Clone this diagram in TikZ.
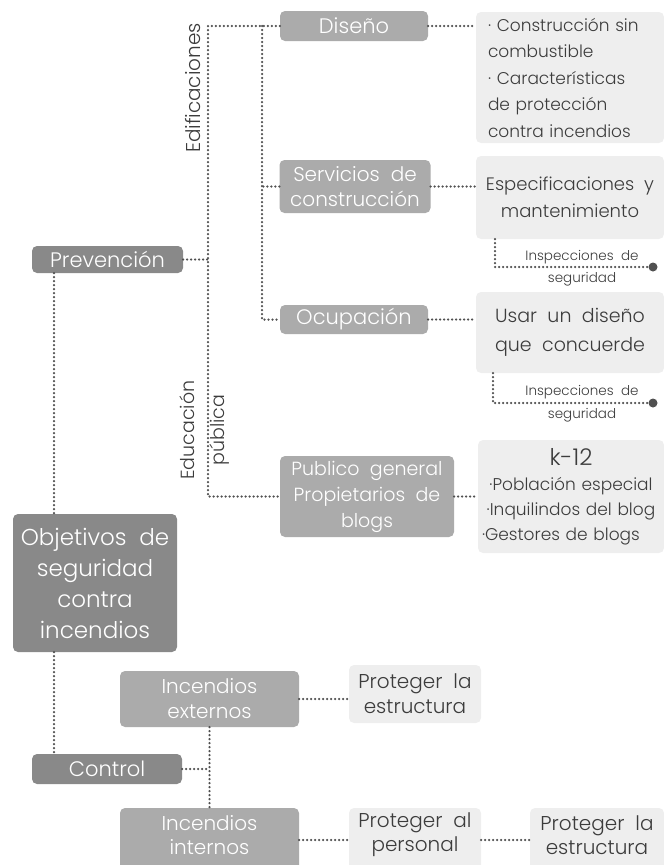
\documentclass[tikz,border=0pt]{standalone}
\usepackage{fontspec}
\setmainfont{Poppins Light}[WordSpace=2]
\usetikzlibrary{calc}
\definecolor{toneA}{HTML}{898989}
\definecolor{toneB}{HTML}{ABABAB}
\definecolor{toneC}{HTML}{EEEEEE}
\definecolor{ink}{HTML}{3C3C3C}
\definecolor{wire}{HTML}{505050}
\newcommand\fsz[2]{\fontsize{#1}{#2}\selectfont}

\begin{document}
\begin{tikzpicture}[x=1pt,y=-1pt,
  box/.style={rounded corners=5pt, inner sep=0pt, align=center, anchor=center},
  rootbox/.style={box, fill=toneA, text=white},
  midbox/.style={box, fill=toneB, text=white},
  leafbox/.style={box, fill=toneC, text=ink},
  link/.style={draw=wire, line width=2.5pt, line cap=round, dash pattern=on 0pt off 4pt},
  enddot/.style={circle, fill=wire, inner sep=0pt, minimum size=9pt},
  note/.style={text=ink, inner sep=0pt, font=\fsz{13.5}{15}},
  plain/.style={inner sep=0pt, align=center, anchor=center}
]
\clip (0,0) rectangle (664,865);

% trunk positions
\coordinate (spine) at (54,0);
\coordinate (trunkA) at (208,0);
\coordinate (trunkB) at (262,0);

% main column
\node[rootbox, minimum width=164pt, minimum height=138pt, font=\fsz{23}{31}]
  (obj) at (95,583) {Objetivos de\\seguridad\\contra\\incendios};
\node[rootbox, minimum width=151pt, minimum height=27pt, font=\fsz{21}{22}]
  (prev) at (107.5,259.5) {Prevención};
\node[rootbox, minimum width=150pt, minimum height=30pt, font=\fsz{21}{22}]
  (ctrl) at (107,769) {Control};

% prevention branch
\node[midbox, minimum width=148pt, minimum height=30pt, font=\fsz{21}{22}]
  (dis) at (354,26) {Diseño};
\node[midbox, minimum width=151pt, minimum height=53pt, font=\fsz{20}{25}]
  (serv) at (355,186.5) {Servicios de\\construcción};
\node[midbox, minimum width=148pt, minimum height=29pt, font=\fsz{21}{22}]
  (ocup) at (354,319.5) {Ocupación};
\node[midbox, minimum width=174pt, minimum height=81pt, font=\fsz{19}{26}]
  (pub) at (367,496.5) {Publico general\\Propietarios de\\blogs};

\node[leafbox, minimum width=188pt, minimum height=131pt, text width=164pt,
  font=\fsz{17}{26.5}, align=left, xshift=-2pt]
  (dsum) at (572,77.5) {· Construcción sin\\combustible\\· Características\\de protección\\contra incendios};
\node[leafbox, minimum width=188pt, minimum height=83pt, font=\fsz{18}{27}]
  (esp) at (570,197.5) {Especificaciones y\\mantenimiento};
\node[leafbox, minimum width=188pt, minimum height=81pt, font=\fsz{19}{29}]
  (usar) at (570,332.5) {Usar un diseño\\que concuerde};
\node[leafbox, minimum width=186pt, minimum height=113pt, text width=178pt,
  font=\fsz{17}{25}, align=left]
  (k12) at (571,496.5) {\centering{\fsz{23}{29}k-12}\par ·Población especial\\·Inquilindos del blog\\·Gestores de blogs};

% vertical group labels
\node[rotate=90, text=ink, font=\fsz{20}{24}, inner sep=0pt] (edif) at (193,88) {Edificaciones};
\node[rotate=90, text=ink, font=\fsz{19}{30}, align=center, inner sep=0pt] (educ) at (205,430) {Educación\\pública};

% inspection tails
\coordinate (insA) at (495,267);
\coordinate (insB) at (493,403);
\node[enddot] (dotA) at (653,267) {};
\node[enddot] (dotB) at (653,403) {};
\node[note] (insAt) at (582,257) {Inspecciones de};
\node[note] (insAb) at (582,279) {seguridad};
\node[note] (insBt) at (582,392) {Inspecciones de};
\node[note] (insBb) at (582,415) {seguridad};

% control branch
\node[midbox, minimum width=179pt, minimum height=56pt, font=\fsz{20}{25}]
  (ext) at (209.5,699) {Incendios\\externos};
\node[midbox, minimum width=179pt, minimum height=64pt]
  (int) at (209.5,840) {};
\node[leafbox, minimum width=132pt, minimum height=58pt, font=\fsz{20}{25}]
  (pe1) at (415,694) {Proteger la\\estructura};
\node[leafbox, minimum width=132pt, minimum height=64pt]
  (pp) at (415,840) {};
\node[leafbox, minimum width=134pt, minimum height=64pt]
  (pe2) at (597,840) {};
% bottom row labels, kept inside the lower edge
\node[plain, text=white, font=\fsz{20}{24}] (intT) at (209.5,835) {Incendios\\internos};
\node[plain, text=ink, font=\fsz{20}{24}] (ppT) at (415,835) {Proteger al\\personal};
\node[plain, text=ink, font=\fsz{20}{24}] (pe2T) at (597,835) {Proteger la\\estructura};

% connectors
\draw[link] (prev.south -| spine) -- (obj.north -| spine);
\draw[link] (obj.south -| spine) -- (ctrl.north -| spine);
\draw[link] (prev.east) -- (prev.east -| trunkA);
\draw[link] (dis.west) -- (dis.west -| trunkA) -- (pub.west -| trunkA) -- (pub.west);
\draw[link] (dis.west -| trunkB) -- (ocup.west -| trunkB) -- (ocup.west);
\draw[link] (serv.west) -- (serv.west -| trunkB);
\draw[link] (dis.east) -- (dis.east -| dsum.west);
\draw[link] (serv.east) -- (serv.east -| esp.west);
\draw[link] (ocup.east) -- (ocup.east -| usar.west);
\draw[link] (pub.east) -- (pub.east -| k12.west);
\draw[link] (esp.south -| insA) -- (insA) -- (dotA);
\draw[link] (usar.south -| insB) -- (insB) -- (dotB);
\draw[link] (ctrl.east) -- (ctrl.east -| ext.south);
\draw[link] (ext.south) -- (int.north);
\draw[link] (ext.east) -- (ext.east -| pe1.west);
\draw[link] (int.east) -- (pp.west);
\draw[link] (pp.east) -- (pe2.west);
\end{tikzpicture}
\end{document}
